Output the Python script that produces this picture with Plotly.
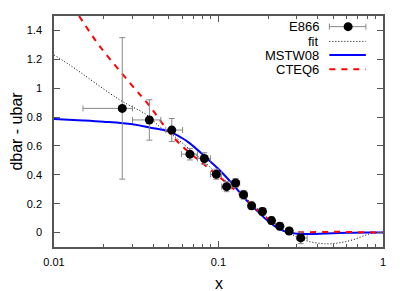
import plotly.graph_objects as go

# E866 data
e866_x = [0.026, 0.038, 0.052, 0.067, 0.082, 0.097, 0.112, 0.127, 0.142, 0.159, 0.185, 0.21, 0.236, 0.269, 0.316]
e866_y = [0.86, 0.78, 0.71, 0.543, 0.513, 0.404, 0.318, 0.343, 0.262, 0.185, 0.146, 0.083, 0.044, 0.011, -0.037]
e866_yerr = [0.49, 0.14, 0.08, 0.04, 0.04, 0.035, 0.035, 0.03, 0.03, 0.025, 0.025, 0.025, 0.025, 0.025, 0.04]
e866_xerr_minus = [0.011, 0.008, 0.0042, 0.0075, 0.0075, 0.0075, 0.0075, 0.0075, 0.0075, 0.0075, 0.0075, 0.0075, 0.0075, 0.0125, 0.015]
e866_xerr_plus = [0.004, 0.0066, 0.0085, 0.0075, 0.0075, 0.0075, 0.0075, 0.0075, 0.0075, 0.0075, 0.0075, 0.0075, 0.0075, 0.0125, 0.03]

# fit (dotted)
fit_x = [0.01, 0.0125, 0.0252, 0.0366, 0.044, 0.052, 0.067, 0.082, 0.1, 0.127, 0.16, 0.2, 0.25, 0.3, 0.35, 0.45, 0.55, 0.66, 0.8, 0.9]
fit_y = [1.23, 1.16, 0.918, 0.815, 0.733, 0.68, 0.575, 0.49, 0.40, 0.30, 0.20, 0.10, 0.02, -0.03, -0.06, -0.078, -0.07, -0.049, -0.015, 0.0]

# MSTW08 (blue solid)
mstw_x = [0.01, 0.015, 0.02, 0.03, 0.038, 0.05, 0.06, 0.067, 0.083, 0.1, 0.126, 0.148, 0.165, 0.195, 0.22, 0.25, 0.3, 0.35, 0.45, 0.6, 0.8, 1.0]
mstw_y = [0.787, 0.777, 0.768, 0.75, 0.728, 0.70, 0.655, 0.618, 0.525, 0.44, 0.317, 0.224, 0.17, 0.09, 0.045, 0.01, -0.008, -0.01, -0.006, -0.002, 0.0, 0.0]

# CTEQ6 (red dashed)
cteq_x = [0.0142, 0.019, 0.029, 0.0384, 0.0507, 0.064, 0.08, 0.1, 0.127, 0.16, 0.2, 0.25, 0.3, 0.35, 0.5, 0.7, 1.0]
cteq_y = [1.5, 1.29, 1.035, 0.872, 0.687, 0.57, 0.48, 0.39, 0.29, 0.19, 0.095, 0.03, 0.005, 0.003, 0.005, 0.003, 0.0]

y_ticks = [0, 0.2, 0.4, 0.6, 0.8, 1.0, 1.2, 1.4]
y_ticklabels = ["0", "0.2", "0.4", "0.6", "0.8", "1", "1.2", "1.4"]
x_ticks = [0.01, 0.1, 1]
x_ticklabels = ["0.01", "0.1", "1"]

legend_labels = ["E866", "fit", "MSTW08", "CTEQ6"]

FONT = "Liberation Sans, Arial, sans-serif"

fig = go.Figure()

fig.add_trace(go.Scatter(
    x=fit_x, y=fit_y, mode="lines", line=dict(color="black", width=1, dash="1px,2px", shape="spline"),
    showlegend=False))
fig.add_trace(go.Scatter(
    x=mstw_x, y=mstw_y, mode="lines", line=dict(color="#0000ff", width=2, shape="spline"),
    showlegend=False))
fig.add_trace(go.Scatter(
    x=cteq_x, y=cteq_y, mode="lines", line=dict(color="#ff0000", width=2, dash="6px,6px", shape="spline"),
    showlegend=False))
fig.add_trace(go.Scatter(
    x=e866_x, y=e866_y, mode="markers",
    marker=dict(color="black", size=9),
    error_y=dict(type="data", array=e866_yerr, color="#888888", thickness=1, width=3),
    error_x=dict(type="data", array=e866_xerr_plus, arrayminus=e866_xerr_minus, color="#888888", thickness=1, width=3),
    showlegend=False))

# custom gnuplot-style legend (text right, sample left)
leg_y = [0.954, 0.890, 0.831, 0.770]
tx = 0.811
sx0, sx1 = 0.837, 0.948
shapes = []
annotations = []
for lab, yy in zip(legend_labels, leg_y):
    annotations.append(dict(xref="paper", yref="paper", x=tx, y=yy, text=lab, showarrow=False,
                            xanchor="right", yanchor="middle", font=dict(family=FONT, size=13, color="black")))
# x axis title
annotations.append(dict(xref="paper", yref="paper", x=0.5, y=-0.156, text="x", showarrow=False,
                        xanchor="center", yanchor="middle", font=dict(family=FONT, size=16, color="black")))
styles = [dict(color="#888888", width=1), dict(color="black", width=1, dash="1px,2px"),
          dict(color="#0000ff", width=2), dict(color="#ff0000", width=2, dash="6px,6px")]
for st, yy in zip(styles, leg_y):
    shapes.append(dict(type="line", xref="paper", yref="paper", x0=sx0, x1=sx1, y0=yy, y1=yy, line=st))
# E866 caps and dot
for xc in (sx0, sx1):
    shapes.append(dict(type="line", xref="paper", yref="paper", xsizemode="pixel", ysizemode="pixel",
                       xanchor=xc, yanchor=leg_y[0], x0=0, x1=0, y0=-3, y1=3, line=dict(color="#888888", width=1)))
shapes.append(dict(type="circle", xref="paper", yref="paper", xsizemode="pixel", ysizemode="pixel",
                   xanchor=0.894, yanchor=leg_y[0], x0=-4.5, x1=4.5, y0=-4.5, y1=4.5,
                   fillcolor="black", line=dict(color="black", width=0)))

# page body has an 8px margin, so the figure is 8px smaller and shifted
fig.update_layout(
    width=407, height=283,
    margin=dict(l=46, r=32, t=8, b=44, autoexpand=False),
    paper_bgcolor="white", plot_bgcolor="white",
    font=dict(family=FONT, size=11, color="black"),
    shapes=shapes, annotations=annotations,
    showlegend=False,
)
fig.update_xaxes(
    type="log", range=[-2, 0], automargin=False,
    tickvals=x_ticks, ticktext=x_ticklabels,
    ticks="inside", ticklen=6, tickcolor="#555555",
    minor=dict(ticks="inside", ticklen=3, tickcolor="#555555", tickvals=[0.02,0.03,0.04,0.05,0.06,0.07,0.08,0.09,0.2,0.3,0.4,0.5,0.6,0.7,0.8,0.9], showgrid=False),
    showline=True, linecolor="#555555", linewidth=1.5, mirror="allticks",
    showgrid=False, zeroline=False,
    ticklabelstandoff=4,
)
fig.update_yaxes(
    range=[-0.1, 1.5], automargin=False,
    tickvals=y_ticks, ticktext=y_ticklabels,
    ticks="inside", ticklen=6, tickcolor="#555555",
    showline=True, linecolor="#555555", linewidth=1.5, mirror="allticks",
    showgrid=False, zeroline=False,
    ticklabelstandoff=8,
    title=dict(text="dbar - ubar", font=dict(family=FONT, size=16), standoff=6),
)

fig.write_html("out.html")
